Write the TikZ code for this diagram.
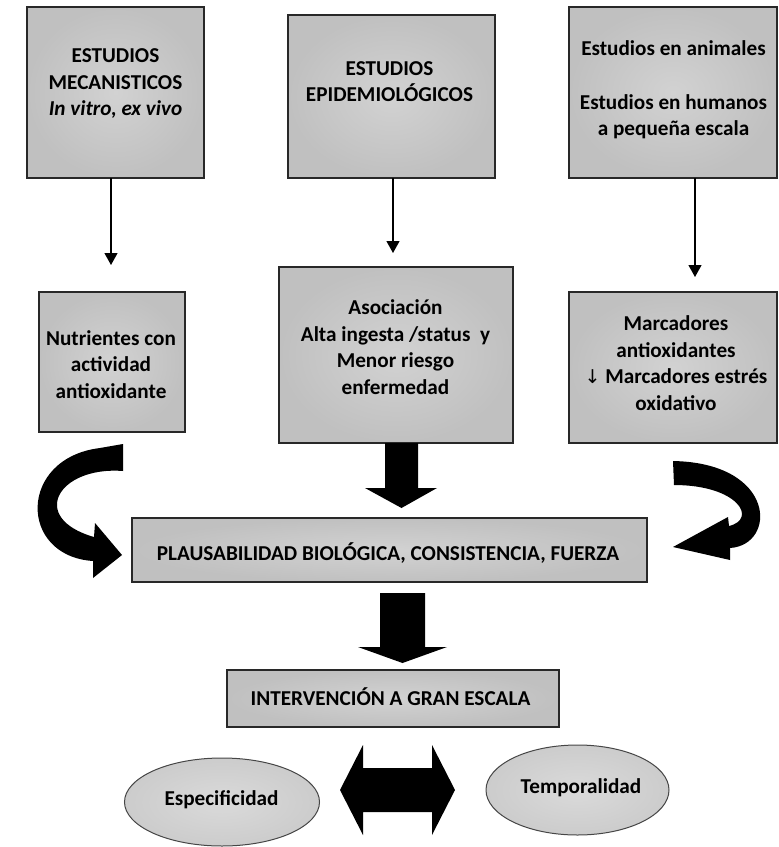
\documentclass[tikz,border=0pt]{standalone}
\usepackage{fontspec}
\setmainfont{Carlito}
\newfontfamily\arrowfont{DejaVu Sans}
\usetikzlibrary{arrows.meta,shapes.geometric}
\definecolor{boxin}{RGB}{210,210,210}
\definecolor{boxout}{RGB}{192,192,192}
\definecolor{edgecol}{RGB}{40,40,40}
\definecolor{ellin}{RGB}{218,218,218}
\definecolor{ellout}{RGB}{204,204,204}
\definecolor{elledge}{RGB}{70,70,70}
\begin{document}
\begin{tikzpicture}[x=1pt,y=-1pt,
  box/.style={draw=edgecol, line width=1.1pt, inner color=boxin, outer color=boxout, inner sep=0pt, outer sep=0pt},
  oval/.style={ellipse, draw=elledge, line width=1pt, inner color=ellin, outer color=ellout, inner sep=0pt, outer sep=0pt},
  txt/.style={font=\bfseries\fontsize{21.2}{26.7}\selectfont, align=center, inner sep=0pt, text=black},
  thinarrow/.style={line width=1.2pt, -{Triangle[length=12pt,width=13pt]}},
  blockarrow/.style={fill=black}
]
\useasboundingbox (0,0) rectangle (779,847);

% boxes
\node[box, minimum width=177pt, minimum height=171pt] (b1) at (115.5,92.5) {};
\node[box, minimum width=207pt, minimum height=163pt] (b2) at (391.5,96.5) {};
\node[box, minimum width=208pt, minimum height=171pt] (b3) at (673,92.5) {};
\node[box, minimum width=146pt, minimum height=140pt] (b4) at (112,362) {};
\node[box, minimum width=234pt, minimum height=176pt] (b5) at (396,355) {};
\node[box, minimum width=208pt, minimum height=151pt] (b6) at (673,367.5) {};
\node[box, minimum width=515pt, minimum height=64pt] (b7) at (389.5,550) {};
\node[box, minimum width=332pt, minimum height=57pt] (b8) at (393,698.5) {};
\node[oval, minimum width=195pt, minimum height=88pt] (e1) at (222,802) {};
\node[oval, minimum width=183pt, minimum height=90pt] (e2) at (577.5,790) {};

% texts
\node[txt] (t1) at (115.5,83.5) {ESTUDIOS\\MECANISTICOS\\\textit{In vitro, ex vivo}};
\node[txt] (t2) at (389.5,81.5) {ESTUDIOS\\EPIDEMIOLÓGICOS};
\node[txt] (t3) at (673.5,90) {Estudios en animales\\[26.7pt]Estudios en humanos\\a pequeña escala};
\node[txt] (t4) at (111,364.5) {Nutrientes con\\actividad\\antioxidante};
\node[txt] (t5) at (395.5,347) {Asociación\\Alta ingesta /status\ \ y\\Menor riesgo\\enfermedad};
\node[txt] (t6) at (676,363) {Marcadores\\antioxidantes\\{\arrowfont\mdseries\fontsize{19}{26.7}\selectfont ↓} Marcadores estrés\\oxidativo};
\node[txt] (t7) at (388,553) {PLAUSABILIDAD BIOLÓGICA, CONSISTENCIA, FUERZA};
\node[txt] (t8) at (390.5,697) {INTERVENCIÓN A GRAN ESCALA};
\node[txt] (t9) at (221.5,800) {Especificidad};
\node[txt] (t10) at (581,788) {Temporalidad};

% thin arrows
\coordinate (a1) at (111,265);
\coordinate (a2) at (393,253);
\coordinate (a3) at (695,277);
\draw[thinarrow] (b1.south -| a1) -- (a1);
\draw[thinarrow] (b2.south -| a2) -- (a2);
\draw[thinarrow] (b3.south -| a3) -- (a3);

% block arrows
\fill[blockarrow] (385,443) -- (418,443) -- (418,488) -- (437,488) -- (401.5,508) -- (365,488) -- (385,488) -- cycle;
\fill[blockarrow] (380,593) -- (425,593) -- (425,647) -- (447,647) -- (402.5,663) -- (358,647) -- (380,647) -- cycle;
\fill[blockarrow] (340,790) -- (363,745) -- (363,768) -- (432,768) -- (432,745) -- (455,790) -- (432,835) -- (432,812) -- (363,812) -- (363,835) -- cycle;

% curved arrows
\fill[blockarrow] (100,448) -- (123,444) -- (123,471) .. controls (58,466) and (28,518) .. (94,537) -- (95,523) -- (122,555) -- (93,578) -- (93,561) .. controls (18,556) and (18,458) .. (100,448) -- cycle;
\fill[blockarrow] (673,461) -- (674,485) .. controls (738,485) and (758,519) .. (729,526) -- (728,517) -- (673,547) -- (730,560) -- (730,548) .. controls (777,545) and (777,463) .. (673,461) -- cycle;
\end{tikzpicture}
\end{document}
